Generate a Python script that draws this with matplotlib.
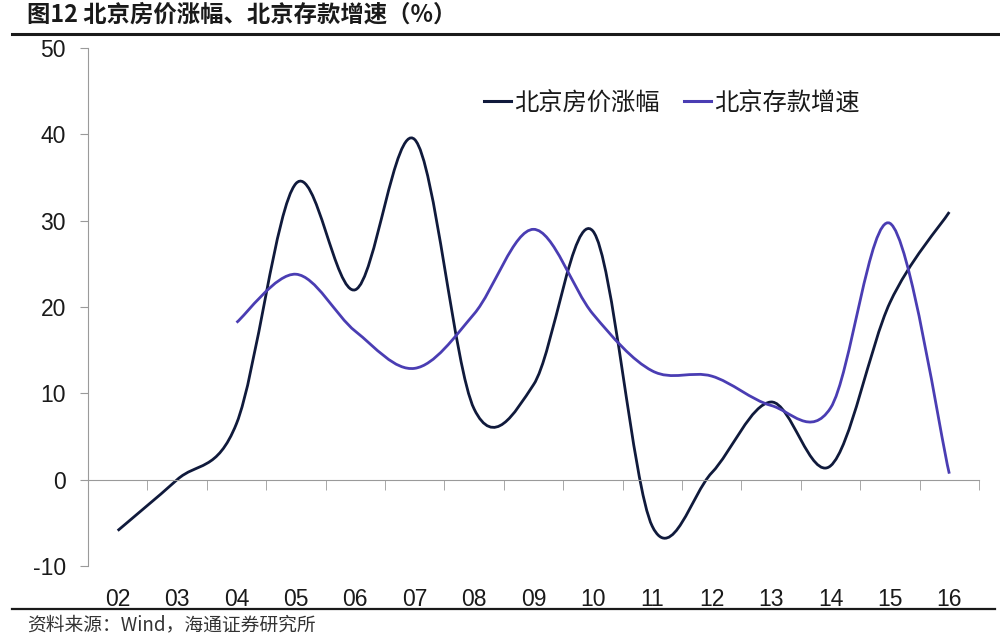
import numpy as np
import matplotlib
matplotlib.use('Agg')
import matplotlib.pyplot as plt
from matplotlib.path import Path
from matplotlib.patches import PathPatch
from matplotlib.lines import Line2D

plt.rcParams['font.family'] = ['Liberation Sans', 'Noto Sans CJK SC', 'DejaVu Sans']

years = ['02', '03', '04', '05', '06', '07', '08', '09', '10', '11', '12', '13', '14', '15', '16']
house = [-5.9, 0.0, 6.5, 34.3, 22.0, 39.4, 8.2, 11.0, 28.8, -5.4, 0.8, 9.0, 1.6, 20.5, 31.0]
# 存款增速 starts from 04
deposit = [None, None, 18.2, 23.8, 17.2, 12.9, 19.2, 29.0, 19.2, 12.6, 12.0, 8.6, 8.3, 29.7, 0.7]

navy = '#101a3c'
purple = '#4a3db3'


def smooth_path(xs, ys):
    # excel-like smooth line: catmull-rom turned into bezier segments
    pts = np.column_stack([xs, ys]).astype(float)
    n = len(pts)
    verts = [pts[0]]
    codes = [Path.MOVETO]
    for i in range(n - 1):
        p0 = pts[i - 1] if i > 0 else pts[i]
        p1 = pts[i]
        p2 = pts[i + 1]
        p3 = pts[i + 2] if i + 2 < n else pts[i + 1]
        c1 = p1 + (p2 - p0) / 6.0
        c2 = p2 - (p3 - p1) / 6.0
        verts += [c1, c2, p2]
        codes += [Path.CURVE4] * 3
    return Path(verts, codes)


fig = plt.figure(figsize=(10, 6.36), dpi=100)
ax = fig.add_axes([0.088, 0.110, 0.891, 0.8145])

x = np.arange(len(years))
hx = [i for i, v in zip(x, house) if v is not None]
hy = [v for v in house if v is not None]
dx = [i for i, v in zip(x, deposit) if v is not None]
dy = [v for v in deposit if v is not None]

ax.add_patch(PathPatch(smooth_path(hx, hy), fill=False, edgecolor=navy, lw=2.0, capstyle='butt'))
ax.add_patch(PathPatch(smooth_path(dx, dy), fill=False, edgecolor=purple, lw=2.0, capstyle='butt'))

ax.set_xlim(-0.5, len(years) - 0.5)
ax.set_ylim(-10, 50)
ax.set_yticks(range(-10, 51, 10))
ax.set_yticklabels([str(v) for v in range(-10, 51, 10)], fontsize=16.5, color='#1a1a1a')

for s in ['top', 'right']:
    ax.spines[s].set_visible(False)
ax.spines['left'].set_color('#9a9a9a')
ax.spines['bottom'].set_color('#9a9a9a')
ax.spines['bottom'].set_position(('data', 0))

ax.tick_params(axis='y', direction='out', length=6, color='#9a9a9a', pad=10)
ax.set_xticks(x)
ax.set_xticklabels(years, fontsize=16.5, color='#1a1a1a')
ax.set_xticks(np.arange(-0.5, len(years)), minor=True)
ax.tick_params(axis='x', which='major', length=0, pad=78)
ax.tick_params(axis='x', which='minor', direction='out', length=7, color='#9a9a9a')

handles = [Line2D([], [], color=navy, lw=2.2), Line2D([], [], color=purple, lw=2.2)]
leg = fig.legend(handles, ['北京房价涨幅', '北京存款增速'], loc='center left',
                 bbox_to_anchor=(0.462, 0.839), ncol=2, frameon=False,
                 handlelength=1.1, handletextpad=0.15, columnspacing=1.0,
                 prop={'family': ['Noto Sans CJK SC'], 'size': 17.5, 'weight': 'light'})
for t in leg.get_texts():
    t.set_color('#1a1a1a')

# title and source
fig.text(0.027, 0.977, '图12 北京房价涨幅、北京存款增速（%）', fontsize=16.8, fontweight='bold',
         family=['Noto Sans CJK SC', 'DejaVu Sans'], va='center', ha='left', color='#1a1a1a')
fig.add_artist(Line2D([0.012, 1.0], [0.947, 0.947], color='#1a1a1a', lw=2.2))
fig.add_artist(Line2D([0.012, 0.995], [0.0425, 0.0425], color='#1a1a1a', lw=1.6))
fig.text(0.027, 0.017, '资料来源：Wind，海通证券研究所', fontsize=13.5,
         family=['Noto Sans CJK SC', 'DejaVu Sans'], weight='light', va='center', ha='left', color='#333333')

fig.savefig('out.png', dpi=100)
